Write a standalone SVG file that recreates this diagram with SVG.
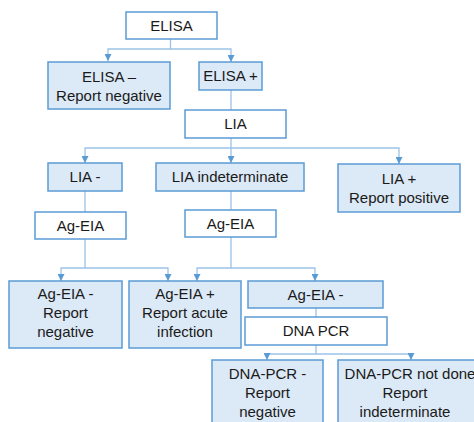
<svg xmlns="http://www.w3.org/2000/svg" width="474" height="422" viewBox="0 0 474 422">
<defs>
<style>
.b{fill:#dce9f6;stroke:#5b9bd5;stroke-width:1.5}
.w{fill:#ffffff;stroke:#5b9bd5;stroke-width:1.5}
.t{font-family:"Liberation Sans",Arial,sans-serif;font-size:15px;fill:#1a1a1a;text-anchor:middle}
.c{fill:none;stroke:#9cc2e8;stroke-width:1.3}
</style>
<marker id="ah" markerWidth="8" markerHeight="7" refX="7" refY="3.5" orient="auto" markerUnits="userSpaceOnUse">
<path d="M0,0 L7,3.5 L0,7 Z" fill="#5b9bd5"/>
</marker>
</defs>
<rect width="474" height="422" fill="#ffffff"/>
<g id="connectors">
<path class="c" d="M170.5 39 V49 H108 V61" marker-end="url(#ah)"/>
<path class="c" d="M170.5 49 H231 V62" marker-end="url(#ah)"/>
<path class="c" d="M231 90 V110"/>
<path class="c" d="M231 138 V148 H85 V163" marker-end="url(#ah)"/>
<path class="c" d="M231 148 V163" marker-end="url(#ah)"/>
<path class="c" d="M231 148 H399 V164" marker-end="url(#ah)"/>
<path class="c" d="M85 191 V212"/>
<path class="c" d="M231 191 V210"/>
<path class="c" d="M85 239 V268 H61 V281" marker-end="url(#ah)"/>
<path class="c" d="M85 268 H168 V281" marker-end="url(#ah)"/>
<path class="c" d="M231 237 V268 H197 V281" marker-end="url(#ah)"/>
<path class="c" d="M231 268 H315 V281" marker-end="url(#ah)"/>
<path class="c" d="M316 308 V317"/>
<path class="c" d="M316 345 V354 H267 V360" marker-end="url(#ah)"/>
<path class="c" d="M316 354 H411 V360" marker-end="url(#ah)"/>
</g>
<g id="elisa"><rect class="w" x="126" y="12" width="91" height="27"/><text class="t" x="171.5" y="31">ELISA</text></g>
<g id="elisa-neg"><rect class="b" x="48" y="62" width="122" height="47"/><text class="t" x="109" y="82">ELISA –</text><text class="t" x="109" y="101">Report negative</text></g>
<g id="elisa-pos"><rect class="b" x="199" y="62" width="63" height="28"/><text class="t" x="230.5" y="81">ELISA +</text></g>
<g id="lia"><rect class="w" x="185" y="110" width="101" height="28"/><text class="t" x="235.5" y="129">LIA</text></g>
<g id="lia-neg"><rect class="b" x="48" y="163" width="74" height="28"/><text class="t" x="85" y="182">LIA -</text></g>
<g id="lia-ind"><rect class="b" x="156" y="163" width="148" height="28"/><text class="t" x="230" y="182">LIA indeterminate</text></g>
<g id="lia-pos"><rect class="b" x="338" y="164" width="122" height="48"/><text class="t" x="399" y="184">LIA +</text><text class="t" x="399" y="203">Report positive</text></g>
<g id="ageia-1"><rect class="w" x="35" y="212" width="91" height="27"/><text class="t" x="80.5" y="231">Ag-EIA</text></g>
<g id="ageia-2"><rect class="w" x="185" y="210" width="91" height="27"/><text class="t" x="230.5" y="229">Ag-EIA</text></g>
<g id="ageia-neg-report"><rect class="b" x="9" y="281" width="113" height="67"/><text class="t" x="65.5" y="299">Ag-EIA -</text><text class="t" x="65.5" y="318">Report</text><text class="t" x="65.5" y="337">negative</text></g>
<g id="ageia-pos"><rect class="b" x="129" y="281" width="112" height="67"/><text class="t" x="185" y="299">Ag-EIA +</text><text class="t" x="185" y="318">Report acute</text><text class="t" x="185" y="337">infection</text></g>
<g id="ageia-neg"><rect class="b" x="248" y="281" width="135" height="27"/><text class="t" x="315.5" y="300">Ag-EIA -</text></g>
<g id="dnapcr"><rect class="w" x="245" y="317" width="142" height="28"/><text class="t" x="316" y="336">DNA PCR</text></g>
<g id="dnapcr-neg"><rect class="b" x="212" y="360" width="111" height="70"/><text class="t" x="267.5" y="379">DNA-PCR -</text><text class="t" x="267.5" y="398">Report</text><text class="t" x="267.5" y="417">negative</text></g>
<g id="dnapcr-nd"><rect class="b" x="338" y="360" width="138" height="70"/><text class="t" x="410" y="379">DNA-PCR not done</text><text class="t" x="405" y="398">Report</text><text class="t" x="405" y="417">indeterminate</text></g>
</svg>
